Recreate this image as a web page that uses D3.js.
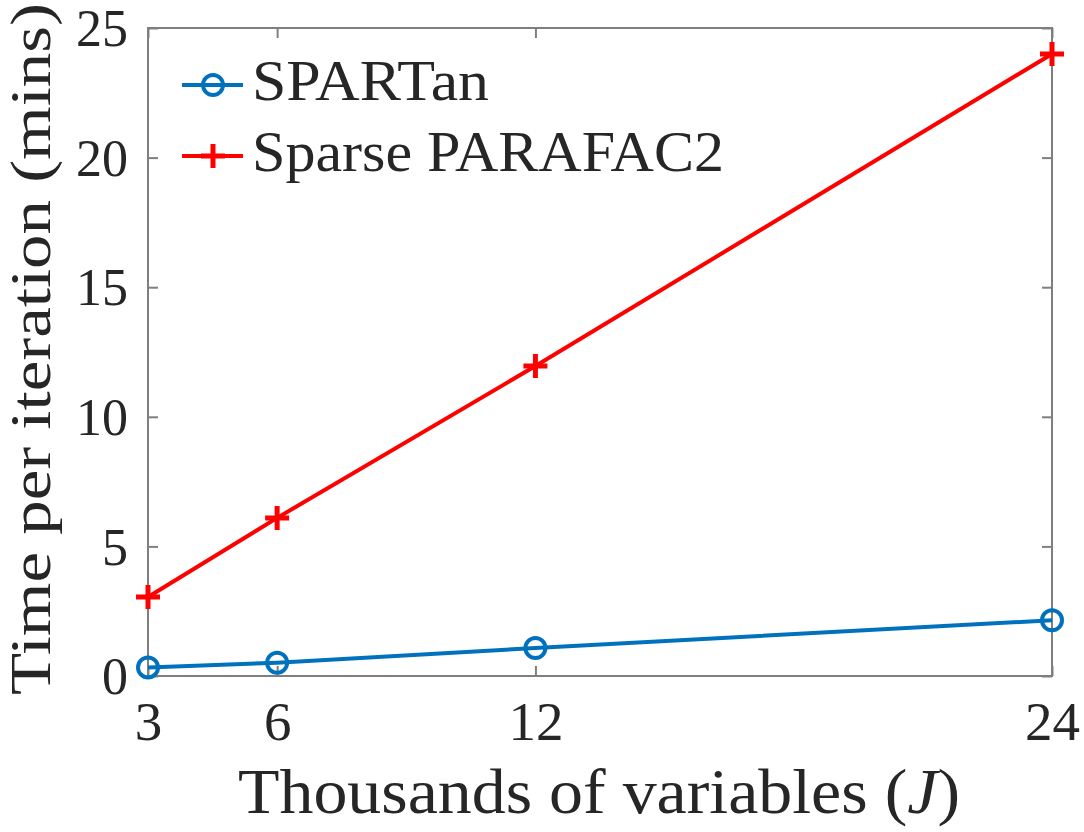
<!DOCTYPE html>
<html>
<head>
<meta charset="utf-8">
<script src="https://cdn.jsdelivr.net/npm/d3@7"></script>
<style>
  body { margin: 0; background: #fff; }
  text { font-family: "Liberation Serif", "DejaVu Serif", serif; fill: #262626; }
</style>
</head>
<body>
<script>
// data
let xVals = [3, 6, 12, 24]
let spartan = [0.33, 0.51, 1.08, 2.15]
let sparseParafac2 = [3.05, 6.1, 11.96, 24.0]
let xTicks = [3, 6, 12, 24]
let yTicks = [0, 5, 10, 15, 20, 25]
let seriesNames = ['SPARTan', 'Sparse PARAFAC2']

var margin = { top: 28, right: 32, bottom: 156, left: 148 },
    width = 1084 - margin.left - margin.right,
    height = 832 - margin.top - margin.bottom;

var svg = d3.select("body").append("svg")
    .attr("width", 1084)
    .attr("height", 832)
    .append("g")
    .attr("transform", "translate(" + margin.left + "," + margin.top + ")");

var x = d3.scaleLinear().domain([3, 24]).range([0, width])
var y = d3.scaleLinear().domain([0, 25]).range([height, 0])

var axisColor = '#7f7f7f'

// box
svg.append('rect')
    .attr('width', width).attr('height', height)
    .attr('fill', 'none').attr('stroke', axisColor).attr('stroke-width', 2)

// inward ticks, all four sides
function styleAxis(g) {
    g.select('.domain').remove()
    g.selectAll('.tick line').attr('stroke', axisColor).attr('stroke-width', 2)
    g.selectAll('.tick text').attr('fill', '#262626')
}
svg.append('g').attr('transform', 'translate(0,' + height + ')')
    .call(d3.axisBottom(x).tickValues(xTicks).tickSize(-10).tickPadding(25))
    .call(styleAxis)
    .selectAll('.tick text').attr('dy', '0.71em').style('font-size', '55px')
svg.append('g')
    .call(d3.axisLeft(y).tickValues(yTicks).tickSize(-10).tickPadding(20))
    .call(styleAxis)
    .selectAll('.tick text').attr('dy', '0.34em').style('font-size', '52px')
svg.append('g')
    .call(d3.axisTop(x).tickValues(xTicks).tickSize(-10).tickFormat(''))
    .call(styleAxis)
svg.append('g').attr('transform', 'translate(' + width + ',0)')
    .call(d3.axisRight(y).tickValues(yTicks).tickSize(-10).tickFormat(''))
    .call(styleAxis)

var line = d3.line()
    .x(function (d, i) { return x(xVals[i]); })
    .y(function (d) { return y(d); });

var blue = '#0072BD', red = '#FF0000'

// SPARTan
svg.append('path').datum(spartan)
    .attr('d', line).attr('fill', 'none').attr('stroke', blue).attr('stroke-width', 4)
svg.selectAll('.circ').data(spartan).enter().append('circle')
    .attr('cx', (d, i) => x(xVals[i])).attr('cy', d => y(d)).attr('r', 10)
    .attr('fill', 'none').attr('stroke', blue).attr('stroke-width', 4)

// Sparse PARAFAC2
svg.append('path').datum(sparseParafac2)
    .attr('d', line).attr('fill', 'none').attr('stroke', red).attr('stroke-width', 4)
svg.selectAll('.plus').data(sparseParafac2).enter().append('path')
    .attr('d', (d, i) => 'M' + (x(xVals[i]) - 12) + ',' + y(d) + 'h24M' + x(xVals[i]) + ',' + (y(d) - 12) + 'v24')
    .attr('stroke', red).attr('stroke-width', 5).attr('fill', 'none')

// legend
var legend = svg.append('g').attr('transform', 'translate(34,' + (85 - margin.top) + ')')
var legRows = legend.selectAll('g').data(seriesNames).enter().append('g')
    .attr('transform', (d, i) => 'translate(0,' + (i * 71) + ')')
legRows.append('line').attr('x1', 0).attr('x2', 61).attr('y1', 0).attr('y2', 0)
    .attr('stroke', (d, i) => i == 0 ? blue : red).attr('stroke-width', 4)
legRows.filter((d, i) => i == 0).append('circle')
    .attr('cx', 31).attr('cy', 0).attr('r', 10)
    .attr('fill', 'none').attr('stroke', blue).attr('stroke-width', 4)
legRows.filter((d, i) => i == 1).append('path')
    .attr('d', 'M19,0h24M31,-12v24')
    .attr('stroke', red).attr('stroke-width', 5)
legRows.append('text').attr('x', 70).attr('y', 15)
    .style('font-size', '58px')
    .attr('textLength', (d, i) => i == 0 ? 237 : 472)
    .attr('lengthAdjust', 'spacingAndGlyphs')
    .text(d => d)

// axis titles
svg.append('text')
    .attr('x', 451).attr('y', 813 - margin.top)
    .attr('text-anchor', 'middle')
    .style('font-size', '64px')
    .attr('textLength', 722).attr('lengthAdjust', 'spacingAndGlyphs')
    .html('Thousands of variables (<tspan font-style="italic">J</tspan>)')

svg.append('text')
    .attr('transform', 'translate(' + (50 - margin.left) + ',' + (349 - margin.top) + ') rotate(-90)')
    .attr('text-anchor', 'middle')
    .style('font-size', '56px')
    .attr('textLength', 692).attr('lengthAdjust', 'spacingAndGlyphs')
    .text('Time per iteration (mins)')
</script>
</body>
</html>
